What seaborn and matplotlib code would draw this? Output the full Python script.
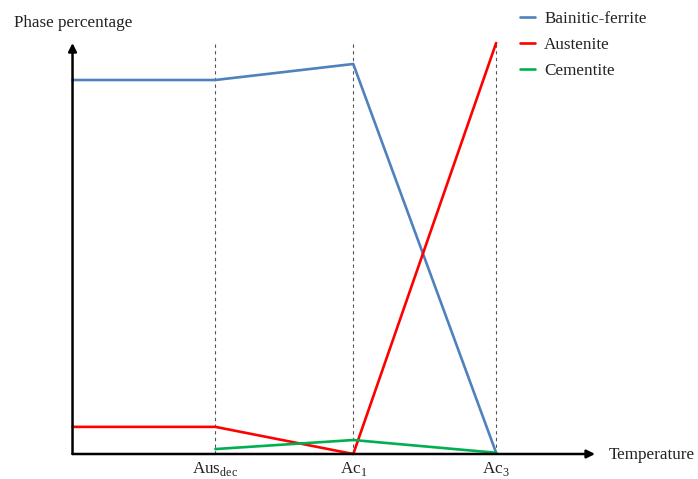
import pandas as pd
import numpy as np
import matplotlib
matplotlib.use("Agg")
import matplotlib.pyplot as plt
import seaborn as sns

# --------------------------------------------------
# PHASE EVOLUTION DURING HEATING (schematic)
# --------------------------------------------------

sns.set_style("white")
plt.rcParams["font.family"] = ["Liberation Serif", "DejaVu Serif"]
plt.rcParams["mathtext.fontset"] = "custom"
plt.rcParams["mathtext.rm"] = "Liberation Serif"

# temperature positions (arbitrary units) and their labels
temp_pos = [0, 143, 281, 424]
temp_labels = ["", r"Aus$_{\mathrm{dec}}$", r"Ac$_{1}$", r"Ac$_{3}$"]

# phase fractions (%)
bainitic_ferrite = [91.0, 91.0, 94.9, 0.3]
austenite = [6.6, 6.6, 0.0, 100.0]
cementite_pos = [143, 281, 424]
cementite = [1.2, 3.4, 0.3]

phases = ["Bainitic-ferrite", "Austenite", "Cementite"]
colors = ["#4F81BD", "#FF0000", "#00B050"]

df = pd.concat([
    pd.DataFrame({"T": temp_pos, "frac": bainitic_ferrite, "phase": phases[0]}),
    pd.DataFrame({"T": temp_pos, "frac": austenite, "phase": phases[1]}),
    pd.DataFrame({"T": cementite_pos, "frac": cementite, "phase": phases[2]}),
])

fig = plt.figure(figsize=(6.98, 4.79), dpi=100)
ax = fig.add_axes([0.1039, 0.0522, 0.7486, 0.858])

# dashed guides at the transformation temperatures
ax.vlines(temp_pos[1:], 0, 100.5, colors="#555555", linestyles=(0, (3, 3)),
          linewidth=0.8, clip_on=False, zorder=1)

sns.lineplot(
    data=df, x="T", y="frac", hue="phase",
    palette=dict(zip(phases, colors)),
    estimator=None, sort=False, linewidth=1.9, ax=ax, zorder=3
)
for ln in ax.lines:
    ln.set_clip_on(False)

ax.set_xlim(0, 523)
ax.set_ylim(0, 100)

# axes drawn as arrows
for s in ax.spines.values():
    s.set_visible(False)
ax.annotate("", xy=(1, 0), xytext=(0, 0), xycoords="axes fraction",
            arrowprops=dict(arrowstyle="-|>", color="black", lw=1.8,
                            mutation_scale=12, shrinkA=0, shrinkB=0), zorder=4)
ax.annotate("", xy=(0, 1), xytext=(0, 0), xycoords="axes fraction",
            arrowprops=dict(arrowstyle="-|>", color="black", lw=1.8,
                            mutation_scale=12, shrinkA=0, shrinkB=0), zorder=4)

ax.set_xticks(temp_pos[1:])
ax.set_xticklabels(temp_labels[1:], fontsize=12.3, color="#222222")
ax.tick_params(axis="x", length=0, pad=4.5)
ax.set_yticks([])
ax.set_xlabel("")
ax.set_ylabel("")

fig.text(14 / 698, 1 - 23 / 479, "Phase percentage", fontsize=12.3,
         color="#222222", va="center", ha="left")
fig.text(609 / 698, 1 - 455 / 479, "Temperature", fontsize=12.3,
         color="#222222", va="center", ha="left")

ax.legend(
    loc="upper left", bbox_to_anchor=(505 / 698, 1 + 4 / 479),
    bbox_transform=fig.transFigure, frameon=False, fontsize=12.3,
    handlelength=0.85, handletextpad=0.55, labelspacing=0.58, title=None,
    labelcolor="#222222"
)

fig.savefig("out.png", dpi=100)
